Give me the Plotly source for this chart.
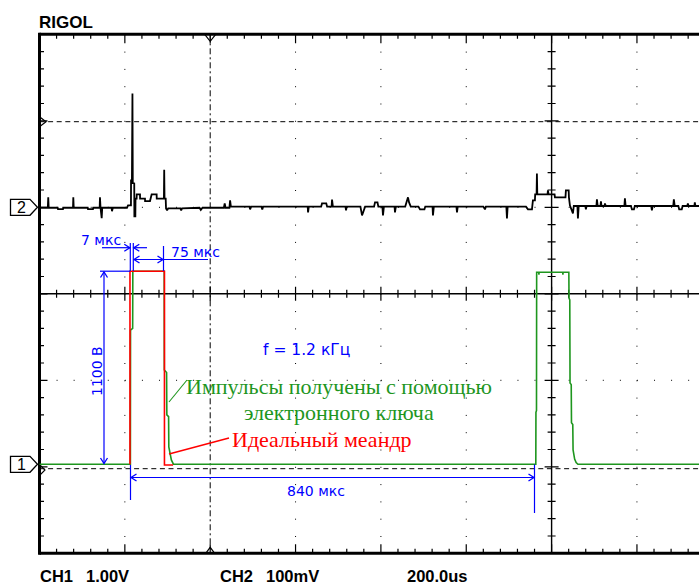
import plotly.graph_objects as go

# ---------------- data ----------------
TIME_PER_DIV_US = 200.0     # 200.0us / div
CH1_V_PER_DIV = 1.00        # CH1 1.00V
CH2_MV_PER_DIV = 100.0      # CH2 100mV
CH1_POS_DIV = -1.97         # channel 1 ground marker position (div from centre)
CH2_POS_DIV = 1.0           # channel 2 ground marker position

# CH2 (black trace): time in us from left screen edge, value in mV
ch2_time_us = [0, 19.5, 20.5, 21.5, 42.5, 43.3, 55, 55.5, 78.5, 79.2, 80.2,
               113, 113.6, 125.3, 125.8, 141, 141.7, 143, 145.7, 147, 169, 169.8, 172,
               205, 207.5, 214.3, 214.5, 216.6, 217.8, 218.6, 222, 222.3, 224.6, 225,
               227.6, 227.8, 235.5, 235.7, 247.2, 247.4, 258.9, 262.8, 274.5, 274.7,
               291.5, 292.2, 293, 295.7, 296.5, 299, 301.5, 330, 332, 334, 375, 378, 382,
               432, 434, 436, 445, 446.6, 448.5, 492, 493.5, 496, 520, 522, 524,
               628.5, 629.3, 631, 660, 662, 672, 674, 684.5, 685.5, 687.5, 717, 718.3, 720,
               752, 755.8, 760, 763, 784, 786.2, 792, 794, 803.5, 804.9, 807, 832, 833, 835,
               857, 860, 863.5, 866, 870, 888, 891.6, 902, 904, 921, 922, 924, 977, 978.3, 980,
               1040, 1043.8, 1046, 1094, 1095.4, 1097, 1140, 1144.6, 1154, 1156.2, 1160.9,
               1161.5, 1164.8, 1165.6, 1166.5, 1190.5, 1191.4, 1193, 1207, 1207.8, 1232.5,
               1233.5, 1240, 1240.6, 1243, 1250, 1252, 1260.5, 1261.7, 1263.5, 1279, 1280.4,
               1282, 1305, 1306.2, 1308, 1314.5, 1315.6, 1317, 1324, 1325, 1327, 1370.5,
               1371.8, 1373.5, 1386, 1388.2, 1393, 1395, 1433.5, 1435, 1437, 1485, 1486.5,
               1488.5, 1497, 1499, 1505, 1507, 1518, 1519.3, 1521, 1534.5, 1535.6, 1537, 1546]
ch2_mv = [-0.5, -0.5, 11.5, -0.5, -0.5, -2, -2, -0.5, -0.5, 11.5, -0.5,
          -0.5, -2, -2, -0.5, -0.5, 11.5, -0.5, -12.5, -0.5, -0.5, -4.5, -0.5,
          -0.5, 2.2, 2.2, 31, 31, 131.5, 28, 27.6, -10.5, -10.5, 10,
          10, 14.9, 14.9, 10, 10, 7.2, 7.2, 14.9, 14.9, 10,
          10, 43.4, 10, 10, -1.3, -3.5, -1.3, -1.3, -3.5, -1.3, -0.5, -3, -0.5,
          -0.5, 4.5, -0.5, -0.5, 8, 0.8, 0.8, -2.4, 0.8, 0.8, -2.4, 0.8,
          0.8, -5.9, 0.8, 0.8, 4.5, 4.5, 0.8, 0.8, 9, 0.8, 0.8, -3.6, 0.8,
          0.8, -9.4, -2.4, 0.8, 0.8, 5.7, 5.7, 0.8, 0.8, -9.4, 0.8, 0.8, -5.9, 0.8,
          0.8, 5.7, 11.5, 5.7, 0.8, 0.8, -2.4, -2.4, 0.8, 0.8, -9.4, 0.8, 0.8, -5.9, 0.8,
          0.8, -2.4, 0.8, 0.8, -12.8, 0.8, 0.8, -2.4, -2.4, 8, 8,
          14.9, 14.9, 39.1, 14.9, 14.9, 19.5, 14.9, 14.9, 11.5, 11.5,
          19.5, 19.5, 11.5, 2, -7, 1.5, 1.5, -12.8, 1.5, 1.5, -2.4,
          1.5, 1.5, 9.1, 1.5, 1.5, 6.8, 1.5, 1.5, 4.5, 1.5, 1.5,
          10.3, 1.5, 1.5, -2.4, -2.4, 1.5, 1.5, -3.6, 1.5, 1.5, 9.1,
          1.5, 1.5, -2.4, -2.4, 1.5, 1.5, 4.5, 1.5, 1.5, 5.7, 1.5, 1.5]

# CH1 (green trace): time in us, value in V
ch1_time_us = [0, 213.0, 213.3, 218.3, 218.7, 292.2, 292.5, 297.8, 298.4, 302.5, 303.0,
               305.5, 309, 313.8, 1163.0, 1163.3, 1164.6, 1165.0, 1169.8, 1170.3, 1170.8,
               1226.0, 1226.5, 1227.0, 1240.4, 1240.8, 1242.6, 1243.2, 1246.0, 1246.6,
               1249.6, 1250.3, 1254, 1257.5, 1261.7, 1546]
ch1_volts = [0, 0, 1.55, 1.57, 2.23, 2.23, 1.09, 1.06, 0.57, 0.55, 0.2,
             0.12, 0.05, 0, 0, 0.6, 0.62, 2.22, 2.22, 2.19, 2.22,
             2.22, 2.19, 2.22, 2.22, 1.92, 1.90, 0.94, 0.92, 0.48,
             0.46, 0.165, 0.06, 0.02, 0, 0]

# ideal square wave (red)
ideal_time_us = [212.0, 212.0, 292.8, 292.8, 313.0]
ideal_volts = [0.0, 2.23, 2.23, -0.01, -0.01]

# texts
scope_name = "RIGOL"
bottom_labels = [("CH1", 38.5), ("1.00V", 84.5), ("CH2", 218.5), ("100mV", 264.5), ("200.0us", 405.5)]
label_pulse_width_small = "7 мкс"
label_pulse_width = "75 мкс"
label_amplitude = "1100 В"
label_period = "840 мкс"
label_freq = "f = 1.2 кГц"
label_green = ["Импульсы получены с помощью", "электронного ключа"]
label_red = "Идеальный меандр"

# ---------------- screen geometry (pixels) ----------------
W, H = 699, 585
X0, DX = 39.5, 85.35      # left frame, px per division
YC, DY = 293.8, 86.5      # centre line, px per division
TOP, BOT = YC - 3 * DY, YC + 3 * DY
XC = X0 + 6 * DX

def t_of(px):
    return (px - X0) / DX * TIME_PER_DIV_US

def d_of(py):
    return (YC - py) / DY

BLUE = "#0000ff"
GREEN = "#1e961e"
RED = "#ff0000"

shapes = []

def line(x1, y1, x2, y2, color="black", width=1.0, dash="solid", layer="below"):
    shapes.append(dict(type="line", xref="paper", yref="paper",
                       x0=x1 / W, y0=1 - y1 / H, x1=x2 / W, y1=1 - y2 / H,
                       line=dict(color=color, width=width, dash=dash), layer=layer))

def pathd(segs):
    out = ""
    for pts in segs:
        out += "M" + "L".join(f"{x / W:.6f},{1 - y / H:.6f}" for x, y in pts)
    return out

def path(segs, color="black", width=1.0, fill="rgba(0,0,0,0)", close=False, layer="below"):
    d = pathd(segs) + ("Z" if close else "")
    shapes.append(dict(type="path", xref="paper", yref="paper", path=d,
                       line=dict(color=color, width=width), fillcolor=fill, layer=layer))

# dotted grid
sub_x, sub_y = DX / 5, DY / 5
for k in (1, 3, 4, 5, 7):
    x = X0 + k * DX
    line(x, TOP, x, BOT, dash=f"1px,{sub_y - 1:.2f}px")
for j in (-1, 1):
    y = YC + j * DY
    line(X0, y, W, y, dash=f"1px,{sub_x - 1:.2f}px")
# cursor / level lines
line(X0, 121.7, W, 121.7, dash="5px,3.6px")
line(X0, 468.7, W, 468.7, dash="5px,3.6px")
line(X0 + 2 * DX, TOP, X0 + 2 * DX, BOT, dash="6px,3px,2px,3px")

# centre axes
line(X0, YC, W, YC, width=1.4)
line(XC, TOP, XC, BOT, width=1.4)

# ticks
tick_segs = []
k = 1
while X0 + k * sub_x <= W + 1:
    x = X0 + k * sub_x
    major = (k % 5 == 0)
    L = 9 if major else 4.5
    tick_segs.append([(x, TOP), (x, TOP + L)])
    tick_segs.append([(x, BOT), (x, BOT - L)])
    c = 7 if major else 4
    tick_segs.append([(x, YC - c), (x, YC + c)])
    k += 1
for j in range(1, 30):
    y = TOP + j * sub_y
    major = (j % 5 == 0)
    L = 8 if major else 4.5
    tick_segs.append([(X0, y), (X0 + L, y)])
    c = 7 if major else 4
    tick_segs.append([(XC - c, y), (XC + c, y)])
path(tick_segs, width=1.2)

# frame
line(X0, TOP, W + 2, TOP, width=3)
line(X0, BOT, W + 2, BOT, width=3)
line(X0, TOP - 1.5, X0, BOT + 1.5, width=3)

# trigger markers
xt = X0 + 2 * DX
path([[(xt - 5.5, TOP), (xt, TOP + 7), (xt + 5.5, TOP)]], width=1.2)
path([[(xt - 4.5, BOT), (xt, BOT - 6), (xt + 4.5, BOT)]], width=1.2)
path([[(X0, 116.7), (X0 + 6.5, 121.7), (X0, 126.7)]], width=1.2)
path([[(X0 + 1, 465.5), (X0 + 5.5, 470), (X0 + 1, 474.5)]], width=1.1)

# channel markers
for yc in (207.3, 464.3):
    path([[(10.5, yc - 8), (30, yc - 8), (37.5, yc), (30, yc + 8), (10.5, yc + 8)]],
         width=1.3, fill="white", close=True, layer="above")

# ---- blue dimension lines ----
def arrowhead(x, y, direction):
    L, hw = 5.5, 3.5
    if direction == "right":
        pts = [(x - L, y - hw), (x, y), (x - L, y + hw)]
    elif direction == "left":
        pts = [(x + L, y - hw), (x, y), (x + L, y + hw)]
    elif direction == "up":
        pts = [(x - hw, y + L), (x, y), (x + hw, y + L)]
    else:
        pts = [(x - hw, y - L), (x, y), (x + hw, y - L)]
    path([pts], color=BLUE, width=1.3, layer="above")

# 7 us
line(130.3, 243, 130.3, 271, color=BLUE, width=1.2, layer="above")
line(133.3, 243, 133.3, 271, color=BLUE, width=1.2, layer="above")
line(102, 247.7, 129.8, 247.7, color=BLUE, width=1.2, layer="above")
arrowhead(129.8, 247.7, "right")
line(133.8, 247.7, 147, 247.7, color=BLUE, width=1.2, layer="above")
arrowhead(133.8, 247.7, "left")
# 75 us
line(163.5, 246, 163.5, 271, color=BLUE, width=1.2, layer="above")
line(134, 259.5, 208, 259.5, color=BLUE, width=1.2, layer="above")
arrowhead(134, 259.5, "left")
arrowhead(163, 259.5, "right")
# 1100 V
line(100, 271.2, 130, 271.2, color=BLUE, width=1.2, layer="above")
line(104, 272, 104, 463.5, color=BLUE, width=1.2, layer="above")
arrowhead(104, 272, "up")
arrowhead(104, 463.5, "down")
# 840 us
line(130.5, 465, 130.5, 500, color=BLUE, width=1.2, layer="above")
line(534.5, 464.5, 534.5, 513, color=BLUE, width=1.2, layer="above")
line(131, 477.5, 534, 477.5, color=BLUE, width=1.2, layer="above")
arrowhead(131, 477.5, "left")
arrowhead(534, 477.5, "right")

# pointer lines
line(169, 402, 187, 380, color=GREEN, width=1.1, layer="above")
line(169, 454, 229, 438, color=RED, width=1.3, layer="above")

# ---------------- figure ----------------
fig = go.Figure()
fig.add_trace(go.Scatter(x=ch2_time_us, y=[CH2_POS_DIV + v / CH2_MV_PER_DIV for v in ch2_mv],
                         mode="lines", line=dict(color="black", width=1.8), hoverinfo="skip"))
fig.add_trace(go.Scatter(x=ch1_time_us, y=[CH1_POS_DIV + v / CH1_V_PER_DIV for v in ch1_volts],
                         mode="lines", line=dict(color=GREEN, width=1.6), hoverinfo="skip"))
fig.add_trace(go.Scatter(x=ideal_time_us, y=[CH1_POS_DIV + v / CH1_V_PER_DIV for v in ideal_volts],
                         mode="lines", line=dict(color=RED, width=1.6), hoverinfo="skip"))

ann = []

def text(s, x, y, size, color="black", family="Liberation Sans", xanchor="center", angle=0):
    ann.append(dict(text=s, x=x / W, y=1 - y / H, xref="paper", yref="paper",
                    xanchor=xanchor, yanchor="middle", showarrow=False, textangle=angle,
                    borderpad=0, font=dict(size=size, color=color, family=family)))

text(f"<b>{scope_name}</b>", 38, 22.5, 17, xanchor="left")
for s, x in bottom_labels:
    text(f"<b>{s}</b>", x, 575.5, 16.5, xanchor="left")
text("2", 21, 207.8, 16)
text("1", 21, 464.8, 16)

text(label_pulse_width_small, 101, 239.5, 14, BLUE, "DejaVu Sans")
text(label_pulse_width, 195.5, 252, 14, BLUE, "DejaVu Sans")
text(label_amplitude, 96.5, 371.5, 14, BLUE, "DejaVu Sans", angle=-90)
text(label_period, 316, 491, 14, BLUE, "DejaVu Sans")
text(label_freq, 306, 350, 15.5, BLUE, "DejaVu Sans")
text(label_green[0], 339, 386, 22, GREEN, "Liberation Serif")
text(label_green[1], 339, 412, 22, GREEN, "Liberation Serif")
text(label_red, 231, 439, 22, RED, "Liberation Serif", xanchor="left")

fig.update_layout(
    width=W, height=H,
    margin=dict(l=0, r=0, t=0, b=0, pad=0, autoexpand=False),
    paper_bgcolor="white", plot_bgcolor="white",
    showlegend=False,
    xaxis=dict(range=[t_of(0), t_of(W)], visible=False, fixedrange=True),
    yaxis=dict(range=[d_of(H), d_of(0)], visible=False, fixedrange=True),
    shapes=shapes, annotations=ann,
)

fig.write_html("out.html", config={"displayModeBar": False, "staticPlot": True},
               post_script="document.body.style.margin='0px';document.body.style.overflow='hidden';")
